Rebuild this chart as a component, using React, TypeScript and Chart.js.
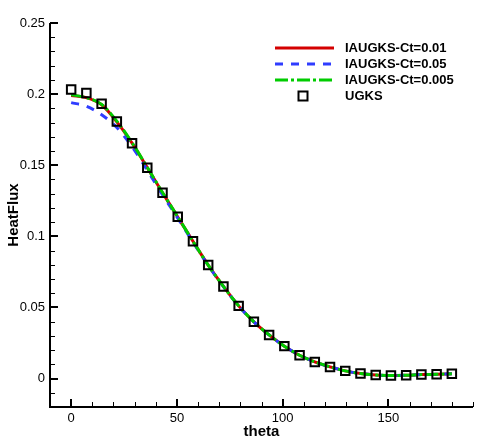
import React, { useEffect, useRef } from "react";
import { Chart, registerables } from "chart.js";

Chart.register(...registerables);

const theta = [0, 7.2, 14.4, 21.6, 28.8, 36, 43.2, 50.4, 57.6, 64.8, 72, 79.2, 86.4, 93.6, 100.8, 108, 115.2, 122.4, 129.6, 136.8, 144, 151.2, 158.4, 165.6, 172.8, 180];
const ugks = [0.2033, 0.2007, 0.1932, 0.1807, 0.1655, 0.1483, 0.1307, 0.1138, 0.0965, 0.0798, 0.0648, 0.0511, 0.0399, 0.0307, 0.0228, 0.0164, 0.0117, 0.0082, 0.0054, 0.0035, 0.0025, 0.0021, 0.0023, 0.0028, 0.0030, 0.0033];
const ct001 = [0.1990, 0.1975, 0.1925, 0.1805, 0.1655, 0.1483, 0.1307, 0.1136, 0.0965, 0.0798, 0.0648, 0.0511, 0.0399, 0.0307, 0.0228, 0.0164, 0.0117, 0.0082, 0.0054, 0.0035, 0.0025, 0.0021, 0.0023, 0.0028, 0.0030, 0.0033];
const ct005 = [0.1940, 0.1915, 0.1855, 0.1765, 0.1630, 0.1465, 0.1292, 0.1128, 0.0960, 0.0795, 0.0646, 0.0510, 0.0398, 0.0306, 0.0228, 0.0164, 0.0117, 0.0082, 0.0054, 0.0035, 0.0025, 0.0021, 0.0023, 0.0028, 0.0030, 0.0033];
const ct0005 = [0.1995, 0.1975, 0.1928, 0.1810, 0.1658, 0.1485, 0.1308, 0.1137, 0.0965, 0.0798, 0.0648, 0.0511, 0.0399, 0.0307, 0.0228, 0.0164, 0.0117, 0.0082, 0.0054, 0.0035, 0.0025, 0.0021, 0.0023, 0.0028, 0.0030, 0.0033];

const seriesLabels = ["IAUGKS-Ct=0.01", "IAUGKS-Ct=0.05", "IAUGKS-Ct=0.005", "UGKS"];
const xMajorTicks = [0, 50, 100, 150];
const yMajorTicks = [0, 0.05, 0.1, 0.15, 0.2, 0.25];
const xMinorTicks = [-10, 10, 20, 30, 40, 60, 70, 80, 90, 110, 120, 130, 140, 160, 170, 180, 190];
const yMinorTicks = [-0.02, -0.01, 0.01, 0.02, 0.03, 0.04, 0.06, 0.07, 0.08, 0.09, 0.11, 0.12, 0.13, 0.14, 0.16, 0.17, 0.18, 0.19, 0.21, 0.22, 0.23, 0.24];

const FONT = "'Liberation Sans', Arial, Helvetica, sans-serif";

const axesPlugin = {
  id: "tecAxes",
  afterDatasetsDraw(chart: any) {
    const { ctx, chartArea, scales } = chart;
    const xs = scales.x;
    const ys = scales.y;
    ctx.save();
    ctx.strokeStyle = "#000";
    ctx.lineCap = "butt";
    // axis lines
    ctx.lineWidth = 2;
    ctx.beginPath();
    ctx.moveTo(chartArea.left, chartArea.top);
    ctx.lineTo(chartArea.left, chartArea.bottom);
    ctx.lineTo(chartArea.right, chartArea.bottom);
    ctx.stroke();
    // major ticks
    ctx.lineWidth = 2;
    ctx.beginPath();
    xMajorTicks.forEach((v) => {
      const px = Math.round(xs.getPixelForValue(v));
      ctx.moveTo(px, chartArea.bottom);
      ctx.lineTo(px, chartArea.bottom - 8);
    });
    yMajorTicks.forEach((v) => {
      const py = Math.round(ys.getPixelForValue(v));
      ctx.moveTo(chartArea.left, py);
      ctx.lineTo(chartArea.left + 8, py);
    });
    ctx.stroke();
    // minor ticks
    ctx.lineWidth = 1;
    ctx.beginPath();
    xMinorTicks.forEach((v) => {
      const px = Math.round(xs.getPixelForValue(v)) + 0.5;
      ctx.moveTo(px, chartArea.bottom);
      ctx.lineTo(px, chartArea.bottom - 5);
    });
    yMinorTicks.forEach((v) => {
      const py = Math.round(ys.getPixelForValue(v)) + 0.5;
      ctx.moveTo(chartArea.left, py);
      ctx.lineTo(chartArea.left + 5, py);
    });
    ctx.stroke();
    ctx.restore();
  },
};

const legendPlugin = {
  id: "tecLegend",
  afterDraw(chart: any) {
    const { ctx } = chart;
    const rowsY = [48, 64, 80, 96];
    const x0 = 275;
    const x1 = 334;
    const tx = 345;
    ctx.save();
    chart.data.datasets.forEach((ds: any, i: number) => {
      const y = rowsY[i];
      if (ds.showLine === false) {
        ctx.strokeStyle = ds.pointBorderColor;
        ctx.lineWidth = ds.pointBorderWidth;
        ctx.setLineDash([]);
        const s = 9;
        ctx.strokeRect(303 - s / 2, y - s / 2, s, s);
      } else {
        ctx.strokeStyle = ds.borderColor;
        ctx.lineWidth = ds.borderWidth;
        ctx.setLineDash(ds.borderDash || []);
        ctx.beginPath();
        ctx.moveTo(x0, y);
        ctx.lineTo(x1, y);
        ctx.stroke();
      }
      ctx.setLineDash([]);
      ctx.fillStyle = "#000";
      ctx.font = `bold 13px ${FONT}`;
      ctx.textAlign = "left";
      ctx.textBaseline = "middle";
      ctx.fillText(ds.label, tx, y);
    });
    ctx.restore();
  },
};

function toPoints(ys: number[]) {
  return theta.map((t, i) => ({ x: t, y: ys[i] }));
}

export default function App() {
  const ref = useRef<HTMLCanvasElement | null>(null);
  useEffect(() => {
    if (!ref.current) return;
    const chart = new Chart(ref.current, {
      type: "line",
      data: {
        datasets: [
          {
            label: seriesLabels[0],
            data: toPoints(ct001),
            borderColor: "#d40000",
            borderWidth: 3,
            pointRadius: 0,
            cubicInterpolationMode: "monotone",
            fill: false,
            order: 3,
          },
          {
            label: seriesLabels[1],
            data: toPoints(ct005),
            borderColor: "#2f3cff",
            borderWidth: 3,
            borderDash: [8, 8],
            pointRadius: 0,
            cubicInterpolationMode: "monotone",
            fill: false,
            order: 2,
          },
          {
            label: seriesLabels[2],
            data: toPoints(ct0005),
            borderColor: "#00cc00",
            borderWidth: 3,
            borderDash: [13, 3, 3, 3],
            pointRadius: 0,
            cubicInterpolationMode: "monotone",
            fill: false,
            order: 1,
          },
          {
            label: seriesLabels[3],
            data: toPoints(ugks),
            showLine: false,
            pointStyle: "rect",
            pointRadius: 6,
            pointBorderColor: "#000",
            pointBackgroundColor: "rgba(0,0,0,0)",
            pointBorderWidth: 2,
            order: 0,
          },
        ] as any,
      },
      options: {
        responsive: false,
        animation: false,
        devicePixelRatio: 1,
        layout: { padding: { left: 0, top: 23, right: 25, bottom: 0 } },
        plugins: {
          legend: { display: false },
          tooltip: { enabled: false },
          title: { display: false },
        },
        scales: {
          x: {
            type: "linear",
            min: -10,
            max: 190,
            grid: { display: false, drawTicks: false },
            border: { display: false },
            afterBuildTicks: (s: any) => {
              s.ticks = xMajorTicks.map((v) => ({ value: v }));
            },
            afterFit: (s: any) => {
              s.height = 36;
            },
            ticks: {
              color: "#000",
              font: { family: FONT, size: 13 },
              padding: 4,
              maxRotation: 0,
              callback: (v: any) => String(v),
            },
            title: {
              display: true,
              text: "theta",
              color: "#000",
              font: { family: FONT, size: 15, weight: "bold" },
              padding: { top: 0, bottom: 2 },
            },
          },
          y: {
            type: "linear",
            min: -0.02,
            max: 0.25,
            grid: { display: false, drawTicks: false },
            border: { display: false },
            afterBuildTicks: (s: any) => {
              s.ticks = yMajorTicks.map((v) => ({ value: v }));
            },
            afterFit: (s: any) => {
              s.width = 50;
            },
            ticks: {
              color: "#000",
              font: { family: FONT, size: 13 },
              padding: 5,
              callback: (v: any) => String(Number(Number(v).toFixed(4))),
            },
            title: {
              display: true,
              text: "HeatFlux",
              color: "#000",
              font: { family: FONT, size: 15, weight: "bold" },
              padding: { top: 5, bottom: 0 },
            },
          },
        },
      } as any,
      plugins: [axesPlugin, legendPlugin],
    });
    return () => chart.destroy();
  }, []);
  return (
    <div style={{ position: "fixed", left: 0, top: 0, width: 498, height: 443, background: "#fff" }}>
      <canvas ref={ref} width={498} height={443} style={{ display: "block" }} />
    </div>
  );
}
